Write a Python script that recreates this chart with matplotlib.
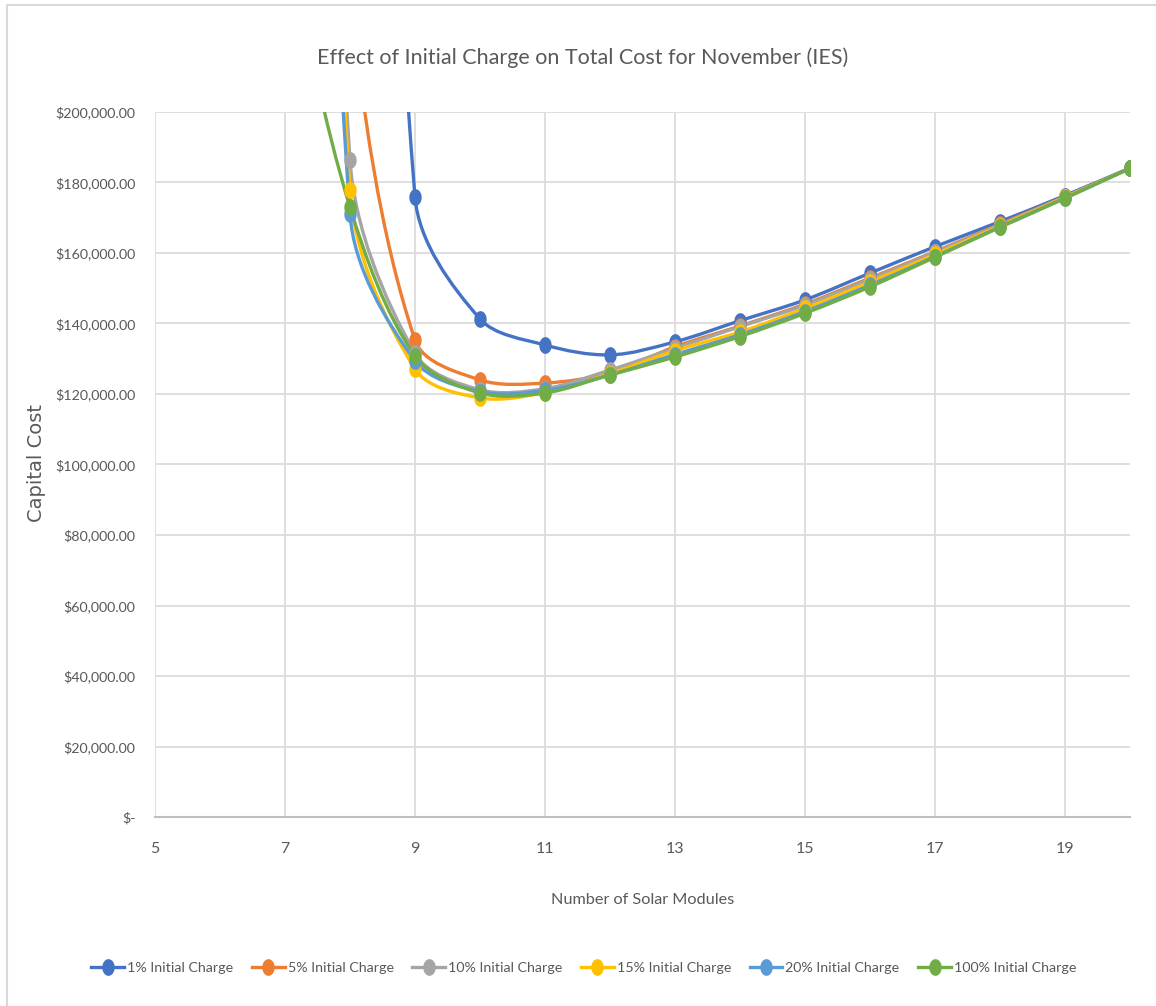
import numpy as np
import matplotlib
matplotlib.use("Agg")
import matplotlib.pyplot as plt
from matplotlib.path import Path
from matplotlib.patches import PathPatch, Rectangle
from matplotlib.lines import Line2D
from matplotlib.ticker import FuncFormatter

plt.rcParams['font.family'] = ['Lato', 'DejaVu Sans']

modules = [7, 8, 9, 10, 11, 12, 13, 14, 15, 16, 17, 18, 19, 20]
labels = ["1% Initial Charge", "5% Initial Charge", "10% Initial Charge",
          "15% Initial Charge", "20% Initial Charge", "100% Initial Charge"]
colors = ["#4472C4", "#ED7D31", "#A5A5A5", "#FFC000", "#5B9BD5", "#70AD47"]

charge_1 = [900000, 600000, 175900, 141300, 133900, 131100, 134800, 140800,
            146700, 154300, 161800, 168900, 176300, 184100]
charge_5 = [500000, 235000, 135300, 124000, 123100, 126000, 133400, 139300,
            145500, 152900, 160400, 168200, 176000, 184000]
charge_10 = [700000, 186400, 131500, 121200, 121500, 126800, 133000, 139100,
             145200, 152600, 160200, 168000, 175900, 184000]
charge_15 = [700000, 177900, 127100, 118900, 120400, 125800, 132300, 137600,
             144300, 151800, 159600, 167700, 175800, 184000]
charge_20 = [650000, 171000, 129400, 120700, 121000, 125400, 131200, 136800,
             143400, 150900, 159000, 167400, 175600, 184000]
charge_100 = [250000, 173000, 130800, 120300, 120300, 125400, 130500, 136300,
              142900, 150400, 158800, 167300, 175500, 184100]
series = [charge_1, charge_5, charge_10, charge_15, charge_20, charge_100]

# screen-ish scale so the smoothing behaves like Excel's
SX, SY = 65.0, 705.0 / 200000


def smooth_path(xs, ys):
    p = np.column_stack([np.array(xs, float) * SX, np.array(ys, float) * SY])
    n = len(p)
    verts = [p[0]]
    codes = [Path.MOVETO]
    for i in range(n - 1):
        a, b = p[i], p[i + 1]
        if i == 0:
            c1 = a + (b - a) / 3
        else:
            t = p[i + 1] - p[i - 1]
            dp = np.hypot(*(a - p[i - 1]))
            dn = np.hypot(*(b - a))
            c1 = a + t * dn / (dp + dn) / 3
        if i + 1 == n - 1:
            c2 = b - (b - a) / 3
        else:
            t = p[i + 2] - p[i]
            dp = np.hypot(*(b - a))
            dn = np.hypot(*(p[i + 2] - b))
            c2 = b - t * dp / (dp + dn) / 3
        verts += [c1, c2, b]
        codes += [Path.CURVE4] * 3
    verts = np.array(verts) / [SX, SY]
    return Path(verts, codes)


# slightly tall ellipse marker (the original chart is squeezed sideways)
th = np.linspace(0, 2 * np.pi, 40)
ellipse = Path(np.column_stack([0.36 * np.cos(th), 0.5 * np.sin(th)]))

fig = plt.figure(figsize=(11.56, 10.06), dpi=100)
ax = fig.add_axes([155 / 1156, 1 - 817 / 1006, 975 / 1156, 705 / 1006])

for ys, c in zip(series, colors):
    ax.add_patch(PathPatch(smooth_path(modules, ys), fill=False, edgecolor=c,
                           lw=2.4, capstyle='round', joinstyle='round', zorder=3))
    ax.plot(modules, ys, linestyle='none', marker=ellipse, markersize=11,
            color=c, zorder=4)

ax.set_xlim(5, 20)
ax.set_ylim(0, 200000)
ax.set_xticks(range(5, 20, 2))
ax.set_yticks(range(0, 200001, 20000))
ax.yaxis.set_major_formatter(FuncFormatter(
    lambda v, p: "$-" if v == 0 else "${:,.2f}".format(v)))
ax.grid(True, color="#d9d9d9", lw=1.2)
ax.set_axisbelow(True)
for s in ["top", "right", "left"]:
    ax.spines[s].set_visible(False)
ax.spines["bottom"].set_color("#bfbfbf")
ax.spines["bottom"].set_linewidth(1.5)
ax.tick_params(axis='x', length=0, pad=18, labelsize=11.5, labelcolor="#595959")
ax.tick_params(axis='y', length=0, pad=14, labelsize=10.3, labelcolor="#595959")

ax.set_xlabel("Number of Solar Modules", fontsize=11.7, color="#595959")
ax.xaxis.set_label_coords(0.5, -0.108)
ax.set_ylabel("Capital Cost", fontsize=14, color="#595959", family="DejaVu Sans")
ax.yaxis.set_label_coords(-0.112, 0.502)

fig.text(0.504, 0.943, "Effect of Initial Charge on Total Cost for November (IES)",
         ha='center', va='center', fontsize=15.5, color="#595959")

handles = [Line2D([], [], color=c, lw=2.4, marker=ellipse, markersize=11)
           for c in colors]
fig.legend(handles, labels, loc='center', bbox_to_anchor=(0.505, 0.038), ncol=6,
           frameon=False, fontsize=10.3, handlelength=2.3, handletextpad=0.2,
           columnspacing=1.3, labelcolor="#595959")

# chart area border
fig.add_artist(Rectangle((7 / 1156, -0.1), 1.2, 1 - 5 / 1006 + 0.1,
                         transform=fig.transFigure, fill=False,
                         edgecolor="#d9d9d9", lw=1.5))

fig.savefig("out.png", dpi=100)
